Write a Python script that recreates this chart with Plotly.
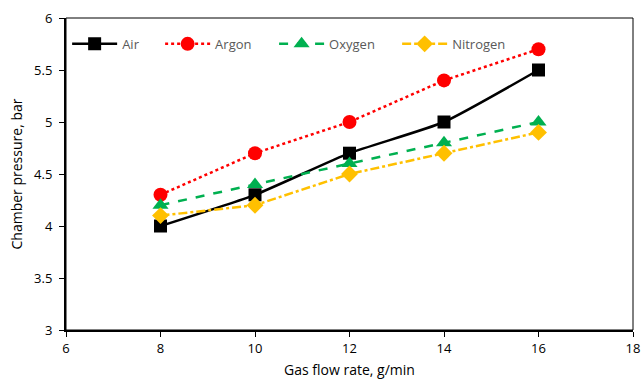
import plotly.graph_objects as go

flow_rate = [8, 10, 12, 14, 16]
air = [4.0, 4.3, 4.7, 5.0, 5.5]
argon = [4.3, 4.7, 5.0, 5.4, 5.7]
oxygen = [4.2, 4.4, 4.6, 4.8, 5.0]
nitrogen = [4.1, 4.2, 4.5, 4.7, 4.9]

series = [
    ("Air", air, "#000000", "solid", "square", 13),
    ("Argon", argon, "#FF0000", "dot", "circle", 14),
    ("Oxygen", oxygen, "#00B050", "dash", "triangle-up", 14),
    ("Nitrogen", nitrogen, "#FFC000", "dashdot", "diamond", 13),
]
legend_ids = ["legend", "legend2", "legend3", "legend4"]
legend_x = [0.002, 0.166, 0.367, 0.584]

fig = go.Figure()
for (name, vals, color, dash, symbol, size), lid in zip(series, legend_ids):
    fig.add_trace(go.Scatter(
        x=flow_rate, y=vals, name=name, mode="lines+markers", legend=lid,
        line=dict(color=color, width=2.5, dash=dash,
                  shape="spline" if name == "Air" else "linear", smoothing=0.5),
        marker=dict(symbol=symbol, size=size, color=color),
    ))

font = "Open Sans, Liberation Sans, sans-serif"
legend_style = dict(orientation="h", y=0.965, xanchor="left", yanchor="top",
                    font=dict(size=13, color="#595959"), bgcolor="rgba(0,0,0,0)",
                    itemwidth=45)
layout_legends = {lid: dict(legend_style, x=lx) for lid, lx in zip(legend_ids, legend_x)}

fig.update_layout(
    width=641, height=382,
    margin=dict(l=66, r=8, t=18, b=52),
    paper_bgcolor="white", plot_bgcolor="white",
    font=dict(family=font, size=13, color="#000000"),
    showlegend=True,
    xaxis=dict(range=[6, 18], dtick=2, showgrid=False, zeroline=False,
               showline=True, linecolor="black", linewidth=2, automargin=False,
               ticks="outside", ticklen=5, tickcolor="black",
               title=dict(text="Gas flow rate, g/min", font=dict(size=14), standoff=10)),
    yaxis=dict(range=[3, 6], dtick=0.5, showgrid=False, zeroline=False,
               showline=True, linecolor="black", linewidth=2, automargin=False,
               ticks="outside", ticklen=5, tickcolor="black", ticklabelstandoff=4,
               title=dict(text="Chamber pressure, bar", font=dict(size=14), standoff=8)),
    shapes=[dict(type="rect", xref="paper", yref="paper", x0=0, y0=0, x1=1, y1=1,
                 line=dict(color="black", width=1), layer="below")],
    **layout_legends,
)

fig.write_html("out.html")
